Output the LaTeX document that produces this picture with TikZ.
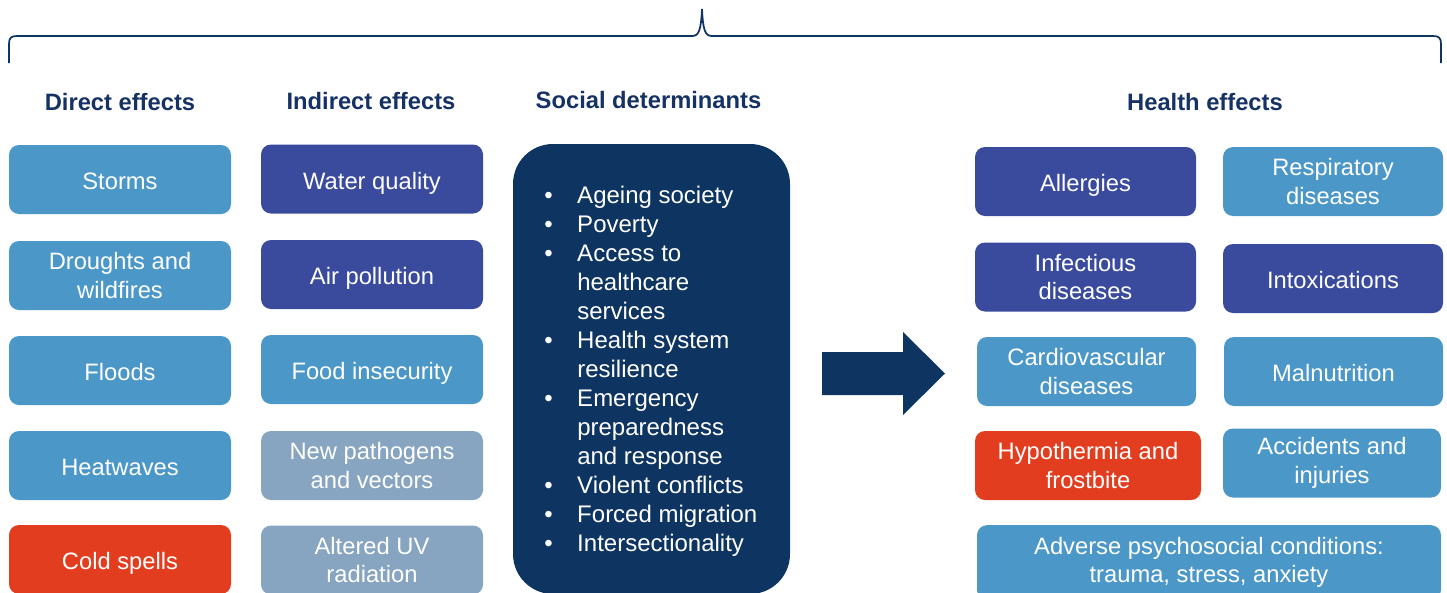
\documentclass[tikz,border=0pt]{standalone}
\usepackage{fontspec}
\setmainfont{Liberation Sans}
\definecolor{lightbox}{RGB}{75,151,200}
\definecolor{deepbox}{RGB}{58,75,157}
\definecolor{redbox}{RGB}{226,61,30}
\definecolor{greybox}{RGB}{135,165,192}
\definecolor{navy}{RGB}{14,52,97}
\definecolor{headtext}{RGB}{22,50,100}
\begin{document}
\begin{tikzpicture}[x=0.75pt,y=-0.75pt,
  box/.style={rounded corners=7.5pt, minimum width=#1*0.75pt, minimum height=51.75pt,
    text=white, align=center, inner sep=0pt,
    font=\fontsize{17.8}{21.5}\selectfont},
  box/.default=222,
  light/.style={box=#1, fill=lightbox}, light/.default=222,
  deep/.style={box=#1, fill=deepbox}, deep/.default=222,
  warm/.style={box=#1, fill=redbox}, warm/.default=222,
  pale/.style={box=#1, fill=greybox}, pale/.default=222,
  oneline/.style={text height=15.5pt, text depth=0.5pt},
  header/.style={text=headtext, font=\bfseries\fontsize{17.8}{21.5}\selectfont, inner sep=0pt},
  bracepath/.style={draw=navy, line width=1.3pt}
]
\useasboundingbox (0,0) rectangle (1447,593);
\clip (0,0) rectangle (1447,593);

% overarching brace
\draw[bracepath] (9,63) -- (9,44) .. controls (9,38) and (11,36) .. (17,36)
  -- (692,36) .. controls (699,36) and (701,30) .. (702,9)
  .. controls (703,30) and (705,36) .. (712,36)
  -- (1433,36) .. controls (1439,36) and (1441,38) .. (1441,44) -- (1441,63);

% column headings
\node[header] (hdirect) at (120,102) {Direct effects};
\node[header] (hindirect) at (371,101) {Indirect effects};
\node[header] (hsocial) at (648.5,100) {Social determinants};
\node[header] (hhealth) at (1205,102) {Health effects};

% direct effects
\node[light, oneline] (storms) at (120,179.5) {Storms};
\node[light] (droughts) at (120,275.5) {Droughts and\\wildfires};
\node[light, oneline] (floods) at (120,370.5) {Floods};
\node[light, oneline] (heat) at (120,465.5) {Heatwaves};
\node[warm, oneline] (cold) at (120,559.5) {Cold spells};

% indirect effects
\node[deep, oneline] (water) at (372,179) {Water quality};
\node[deep, oneline] (air) at (372,274.5) {Air pollution};
\node[light, oneline] (food) at (372,369.5) {Food insecurity};
\node[pale] (pathogens) at (372,465.5) {New pathogens\\and vectors};
\node[pale] (uv) at (372,560) {Altered UV\\radiation};

% social determinants
\node[fill=navy, rounded corners=30pt, minimum width=207.75pt, minimum height=337.5pt,
  inner sep=0pt] (social) at (651.5,369) {};
\node[anchor=base west, inner sep=0pt, text=white,
  font=\fontsize{18}{21.75}\selectfont] (sociallist) at (544,203.5) {%
  \begin{tabular}[t]{@{}l@{}}
  \makebox[24.75pt][l]{•}Ageing society\\
  \makebox[24.75pt][l]{•}Poverty\\
  \makebox[24.75pt][l]{•}Access to\\
  \hspace*{24.75pt}healthcare\\
  \hspace*{24.75pt}services\\
  \makebox[24.75pt][l]{•}Health system\\
  \hspace*{24.75pt}resilience\\
  \makebox[24.75pt][l]{•}Emergency\\
  \hspace*{24.75pt}preparedness\\
  \hspace*{24.75pt}and response\\
  \makebox[24.75pt][l]{•}Violent conflicts\\
  \makebox[24.75pt][l]{•}Forced migration\\
  \makebox[24.75pt][l]{•}Intersectionality
  \end{tabular}};

% block arrow
\fill[navy] (822,352) -- (903,352) -- (903,332) -- (945,373.5) -- (903,415)
  -- (903,395) -- (822,395) -- cycle;

% health effects
\node[deep=221, oneline] (allergies) at (1085.5,181.5) {Allergies};
\node[light=220] (resp) at (1333,181.5) {Respiratory\\diseases};
\node[deep=221] (infect) at (1085.5,277) {Infectious\\diseases};
\node[deep=220, oneline] (intox) at (1333,278.5) {Intoxications};
\node[light=219] (cardio) at (1086.5,371.5) {Cardiovascular\\diseases};
\node[light=219, oneline] (malnut) at (1333.5,371.5) {Malnutrition};
\node[warm=226] (hypo) at (1088,465.5) {Hypothermia and\\frostbite};
\node[light=218] (accid) at (1332,463) {Accidents and\\injuries};
\node[light=464, minimum height=56pt] (psych) at (1209,562.5) {Adverse psychosocial conditions:\\trauma, stress, anxiety};
\end{tikzpicture}
\end{document}
